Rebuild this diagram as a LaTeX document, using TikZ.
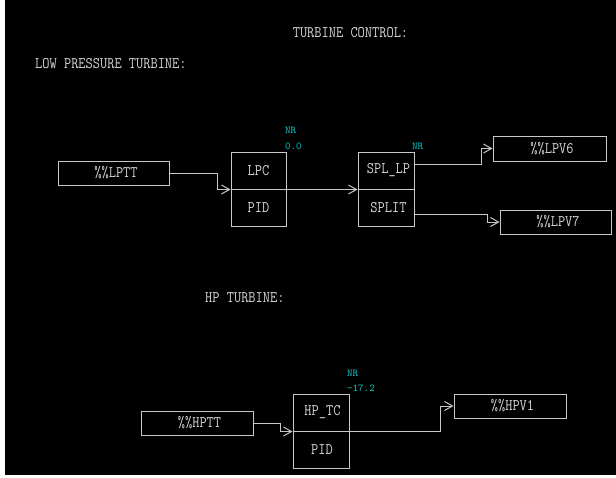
\documentclass[tikz,border=0pt]{standalone}
\usetikzlibrary{arrows.meta}
\definecolor{linec}{HTML}{C8C8C8}
\definecolor{textc}{HTML}{D8D8D8}
\definecolor{nrc}{HTML}{10C8C8}
\newcommand\tallt[1]{\scalebox{1}[1.15]{#1}}
\tikzset{
  box/.style={draw=linec, line width=1pt, inner sep=0pt, text=textc,
    font=\ttfamily\fontsize{14}{14}\selectfont},
  wide/.style={box, minimum width=111pt, minimum height=24pt},
  half/.style={box, minimum width=56pt, minimum height=37pt},
  lbl/.style={text=textc, inner sep=0pt, font=\ttfamily\fontsize{14}{14}\selectfont},
  nr/.style={text=nrc, inner sep=0pt, anchor=west, font=\ttfamily\fontsize{10.5}{10.5}\selectfont},
  conn/.style={draw=linec, line width=1pt, -{Straight Barb[length=8pt,width=9pt,line width=1pt]}},
}
\begin{document}
\begin{tikzpicture}[x=1pt,y=-1pt]
\useasboundingbox (0,0) rectangle (616,477);
\fill[white] (0,0) rectangle (616,477);
\fill[black] (5,0) rectangle (616,475);

\node[lbl] (title) at (350.5,33) {\tallt{TURBINE CONTROL:}};
\node[lbl, anchor=west] (lpt) at (35,63.5) {\tallt{LOW PRESSURE TURBINE:}};
\node[lbl, anchor=west] (hpt) at (205,298) {\tallt{HP TURBINE:}};

% low pressure
\node[wide] (lptt) at (113.5,173) {\hspace*{5pt}\tallt{\%\%LPTT}};
\node[half, minimum width=55pt] (lpcA) at (258.5,170.5) {\tallt{LPC}};
\node[half, minimum width=55pt] (lpcB) at (258.5,207.5) {\tallt{PID}};
\node[nr] (nr1) at (285,130.5) {NR};
\node[nr] (v1) at (285,146) {0.0};

\node[half] (splA) at (386,170.5) {\hspace*{5pt}\tallt{SPL\_LP}};
\node[half] (splB) at (386,207.5) {\hspace*{5pt}\tallt{SPLIT}};
\node[nr] (nr2) at (412,146) {NR};

\node[wide, minimum width=113pt, minimum height=25pt] (lpv6) at (549.5,148.5) {\hspace*{5pt}\tallt{\%\%LPV6}};
\node[wide] (lpv7) at (555.5,222) {\hspace*{5pt}\tallt{\%\%LPV7}};

\draw[conn] (lptt.east) -- ++(48,0) |- (lpcA.south west);
\draw[conn] (lpcA.south east) -- (splA.south west);
\draw[conn] ([yshift=6pt]splA.east) -- ++(67,0) |- (lpv6.west);
\draw[conn] ([yshift=-7pt]splB.east) -- ++(73,0) |- (lpv7.west);

% high pressure
\node[wide, minimum width=112pt] (hptt) at (197,423) {\hspace*{5pt}\tallt{\%\%HPTT}};
\node[half] (hpA) at (321,412.5) {\hspace*{3pt}\tallt{HP\_TC}};
\node[half] (hpB) at (321,449.5) {\hspace*{2pt}\tallt{PID}};
\node[nr] (nr3) at (347,373) {NR};
\node[nr] (v3) at (347,388) {-17.2};
\node[wide, minimum width=112pt] (hpv1) at (510,406) {\hspace*{5pt}\tallt{\%\%HPV1}};

\draw[conn] (hptt.east) -- ++(27,0) |- (hpA.south west);
\draw[conn] (hpA.south east) -- ++(91,0) |- (hpv1.west);
\end{tikzpicture}
\end{document}
